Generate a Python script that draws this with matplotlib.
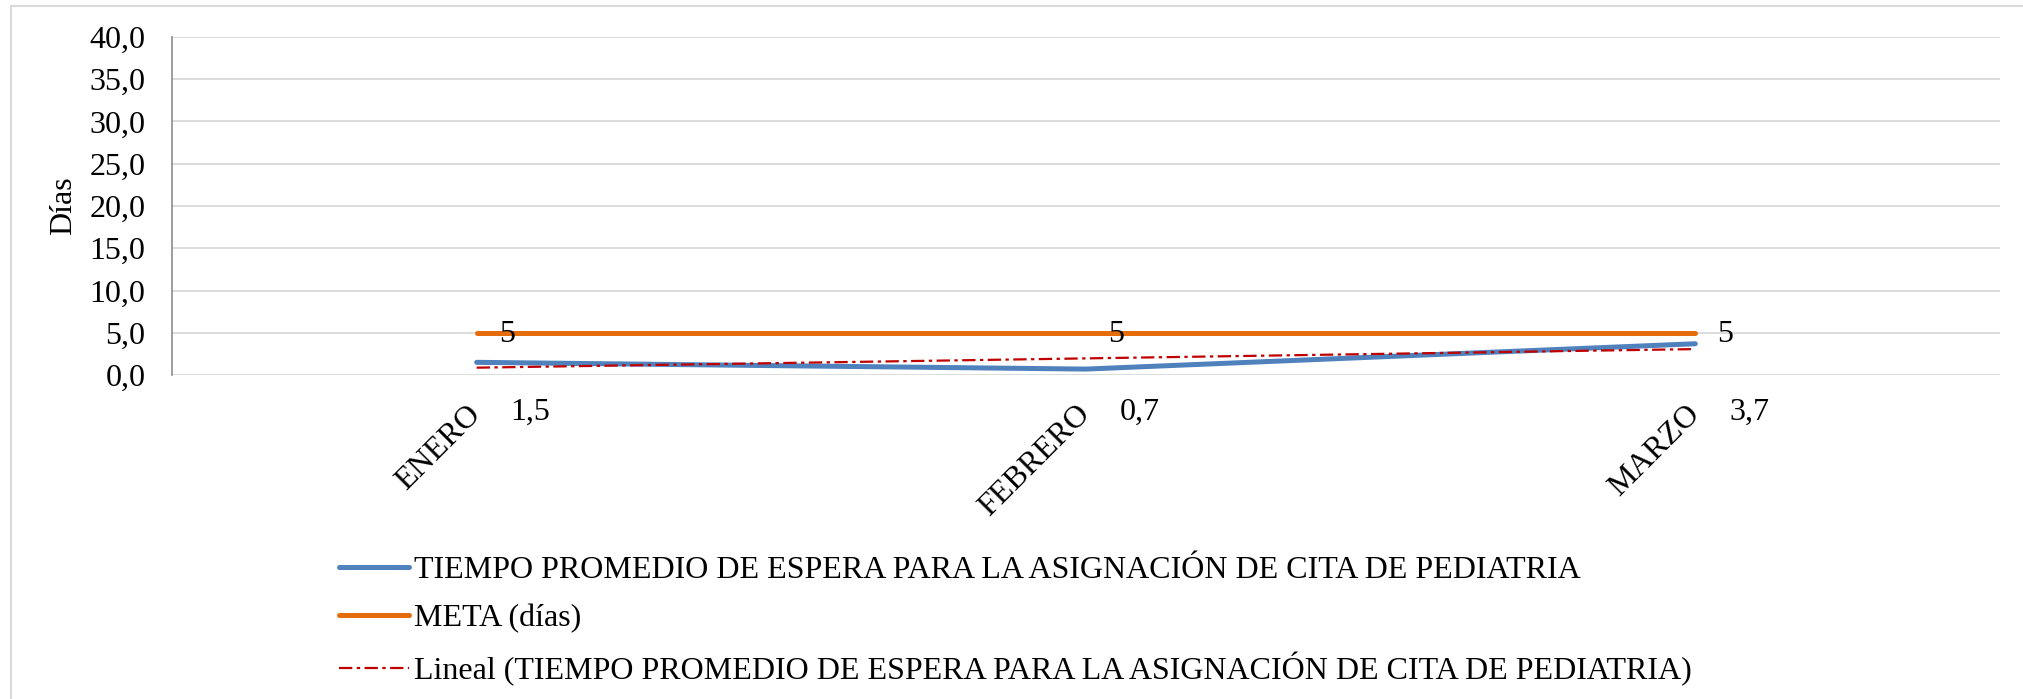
import numpy as np
import matplotlib
matplotlib.use("Agg")
import matplotlib.pyplot as plt
from matplotlib.patches import Rectangle
from matplotlib.ticker import FuncFormatter

# Datos
meses = ["ENERO", "FEBRERO", "MARZO"]
tiempo = [1.5, 0.7, 3.7]
meta = [5, 5, 5]
etiquetas_tiempo = ["1,5", "0,7", "3,7"]
etiquetas_meta = ["5", "5", "5"]

serie_tiempo = "TIEMPO PROMEDIO DE ESPERA PARA LA ASIGNACIÓN DE CITA DE PEDIATRIA"
serie_meta = "META (días)"
serie_lineal = "Lineal (TIEMPO PROMEDIO DE ESPERA PARA LA ASIGNACIÓN DE CITA DE PEDIATRIA)"

plt.rcParams['font.family'] = ['Liberation Serif', 'DejaVu Serif']
fs = 23

W, H = 2023, 699
fig = plt.figure(figsize=(W / 100, H / 100), dpi=100)
ax = fig.add_axes([172 / W, 1 - 375 / H, (2000 - 172) / W, (375 - 37) / H])

# borde exterior del gráfico
fig.patches.append(Rectangle((11 / W, -0.2), 1.2, 1.2 - 6 / H, transform=fig.transFigure,
                             fill=False, edgecolor='#d9d9d9', linewidth=1.5, zorder=0))

x = np.arange(len(meses))
ax.plot(x, tiempo, color='#4f81bd', lw=3.6, solid_capstyle='round', solid_joinstyle='round',
        label=serie_tiempo, zorder=3)
ax.plot(x, meta, color='#e46c0a', lw=3.6, solid_capstyle='round', label=serie_meta, zorder=3)

# línea de tendencia lineal
m, b = np.polyfit(x, tiempo, 1)
ax.plot(x, m * x + b, color='#c00000', lw=1.6, dashes=(6, 2, 1.5, 2), label=serie_lineal, zorder=4)

# etiquetas de datos
for i in range(len(meses)):
    ax.annotate(etiquetas_meta[i], xy=(x[i], meta[i]), xytext=(22, -2), textcoords='offset pixels',
                ha='left', va='center', fontsize=fs, zorder=5)
    ax.annotate(etiquetas_tiempo[i], xy=(x[i], 0), xytext=(54, -37), textcoords='offset pixels',
                ha='center', va='center', fontsize=fs, annotation_clip=False)

ax.set_xlim(-0.5, 2.5)
ax.set_ylim(0, 40)
ax.set_yticks(np.arange(0, 41, 5))
ax.yaxis.set_major_formatter(FuncFormatter(lambda v, p: f"{v:.1f}".replace(".", ",")))
ax.set_xticks(x)
ax.set_xticklabels(meses, rotation=45, ha='right', va='center', rotation_mode='anchor')
ax.tick_params(axis='x', length=0, pad=25, labelsize=fs)
ax.tick_params(axis='y', length=0, pad=19, labelsize=fs)
ax.set_ylabel("Días", fontsize=fs, labelpad=8)

ax.grid(axis='y', color='#d9d9d9', lw=1.3)
ax.set_axisbelow(True)
for s in ['top', 'right', 'bottom']:
    ax.spines[s].set_visible(False)
ax.spines['left'].set_color('#8c8c8c')
ax.spines['left'].set_linewidth(1.2)

fig.legend(loc='upper left', bbox_to_anchor=(339 / W, 1 - 556 / H), frameon=False,
           fontsize=fs, handlelength=2.2, handletextpad=0.15, labelspacing=0.58,
           borderpad=0, borderaxespad=0)

fig.savefig("out.png", dpi=100)
